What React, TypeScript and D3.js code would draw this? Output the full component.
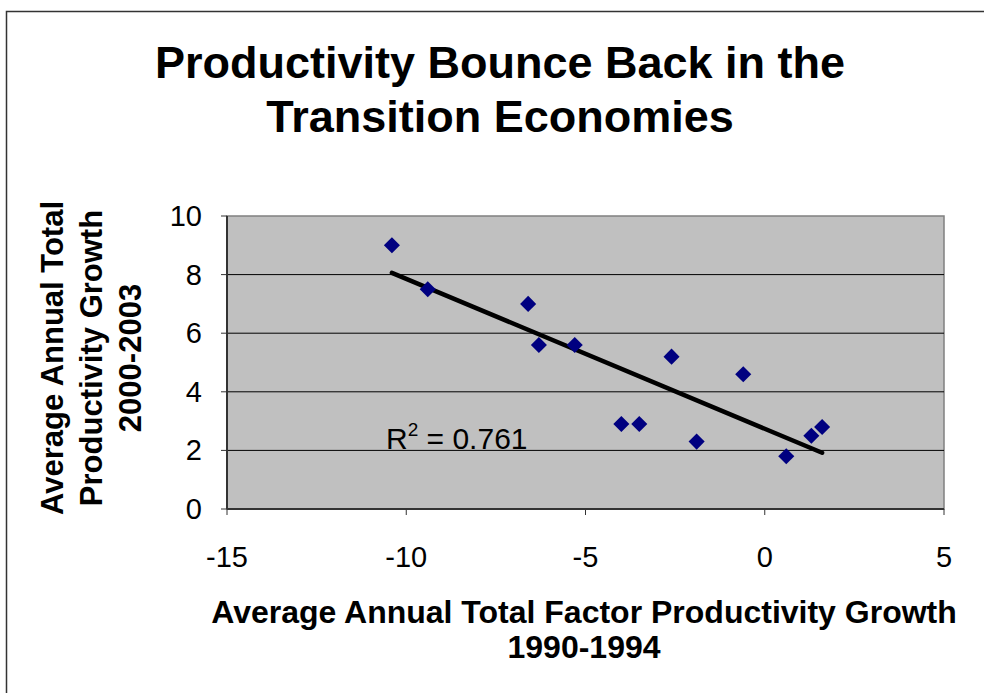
import React from "react";
import * as d3 from "d3";

const tfpGrowth9094 = [-10.4, -9.4, -6.6, -6.3, -5.3, -4.0, -3.5, -2.6, -1.9, -0.6, 0.6, 1.3, 1.6];
const tfpGrowth0003 = [9.0, 7.5, 7.0, 5.6, 5.6, 2.9, 2.9, 5.2, 2.3, 4.6, 1.8, 2.5, 2.8];
const xTicks = [-15, -10, -5, 0, 5];
const yTicks = [0, 2, 4, 6, 8, 10];
const titleLines = ["Productivity Bounce Back in the", "Transition Economies"];
const yLabelLines = ["Average Annual Total", "Productivity Growth", "2000-2003"];
const xLabelLines = ["Average Annual Total Factor Productivity Growth", "1990-1994"];
const r2Label = "0.761";

export default function App() {
  const W = 984, H = 693;
  const left = 227, right = 944, top = 216, bottom = 509;
  const x = d3.scaleLinear().domain([-15, 5]).range([left, right]);
  const y = d3.scaleLinear().domain([0, 10]).range([bottom, top]);
  const font = "'Liberation Sans', Arial, sans-serif";

  const pts = tfpGrowth9094.map((v, i) => [v, tfpGrowth0003[i]] as [number, number]);
  const mx = d3.mean(tfpGrowth9094)!;
  const my = d3.mean(tfpGrowth0003)!;
  const sxy = d3.sum(pts, (p) => (p[0] - mx) * (p[1] - my));
  const sxx = d3.sum(pts, (p) => (p[0] - mx) ** 2);
  const slope = sxy / sxx;
  const icpt = my - slope * mx;
  const [xmin, xmax] = d3.extent(tfpGrowth9094) as [number, number];
  const trend = d3.line<number>().x((v) => x(v)).y((v) => y(icpt + slope * v))([xmin, xmax]);
  const diamond = d3.symbol().type(d3.symbolDiamond2).size(165)()!;

  return (
    <svg width={W} height={H} style={{ position: "absolute", left: 0, top: 0, background: "#fff" }} fontFamily={font}>
      <rect x={6.5} y={11.5} width={1100} height={1000} fill="#fff" stroke="#333" strokeWidth={1.5} />
      {titleLines.map((t, i) => (
        <text key={t} x={500} y={78 + i * 54} textAnchor="middle" fontSize={45} fontWeight="bold">{t}</text>
      ))}
      <rect x={left} y={top} width={right - left} height={bottom - top} fill="#C0C0C0" stroke="#808080" strokeWidth={1.5} />
      {yTicks.filter((t) => t > 0 && t < 10).map((t) => (
        <line key={t} x1={left} x2={right} y1={y(t)} y2={y(t)} stroke="#000" strokeWidth={1} />
      ))}
      <line x1={left} x2={right} y1={bottom} y2={bottom} stroke="#333" strokeWidth={2} />
      <line x1={left} x2={left} y1={top} y2={bottom} stroke="#333" strokeWidth={2} />
      {xTicks.map((t) => (
        <g key={t}>
          <line x1={x(t)} x2={x(t)} y1={bottom} y2={bottom + 6} stroke="#333" strokeWidth={1} />
          <text x={x(t)} y={567} textAnchor="middle" fontSize={29}>{t}</text>
        </g>
      ))}
      {yTicks.map((t) => (
        <g key={t}>
          <line x1={left - 6} x2={left} y1={y(t)} y2={y(t)} stroke="#333" strokeWidth={1} />
          <text x={202} y={y(t) + 10} textAnchor="end" fontSize={29}>{t}</text>
        </g>
      ))}
      <path d={trend!} stroke="#000" strokeWidth={4.5} fill="none" strokeLinecap="round" />
      {pts.map((p, i) => (
        <path key={i} d={diamond} transform={`translate(${x(p[0])},${y(p[1])})`} fill="#000080" />
      ))}
      <text x={386} y={449} fontSize={30}>
        R<tspan fontSize={19} dy={-13}>2</tspan><tspan dy={13}>{` = ${r2Label}`}</tspan>
      </text>
      {yLabelLines.map((t, i) => (
        <text key={t} transform={`translate(${63 + i * 39},${358}) rotate(-90)`} textAnchor="middle" fontSize={31} fontWeight="bold">{t}</text>
      ))}
      {xLabelLines.map((t, i) => (
        <text key={t} x={584} y={623 + i * 35} textAnchor="middle" fontSize={32} fontWeight="bold">{t}</text>
      ))}
    </svg>
  );
}
